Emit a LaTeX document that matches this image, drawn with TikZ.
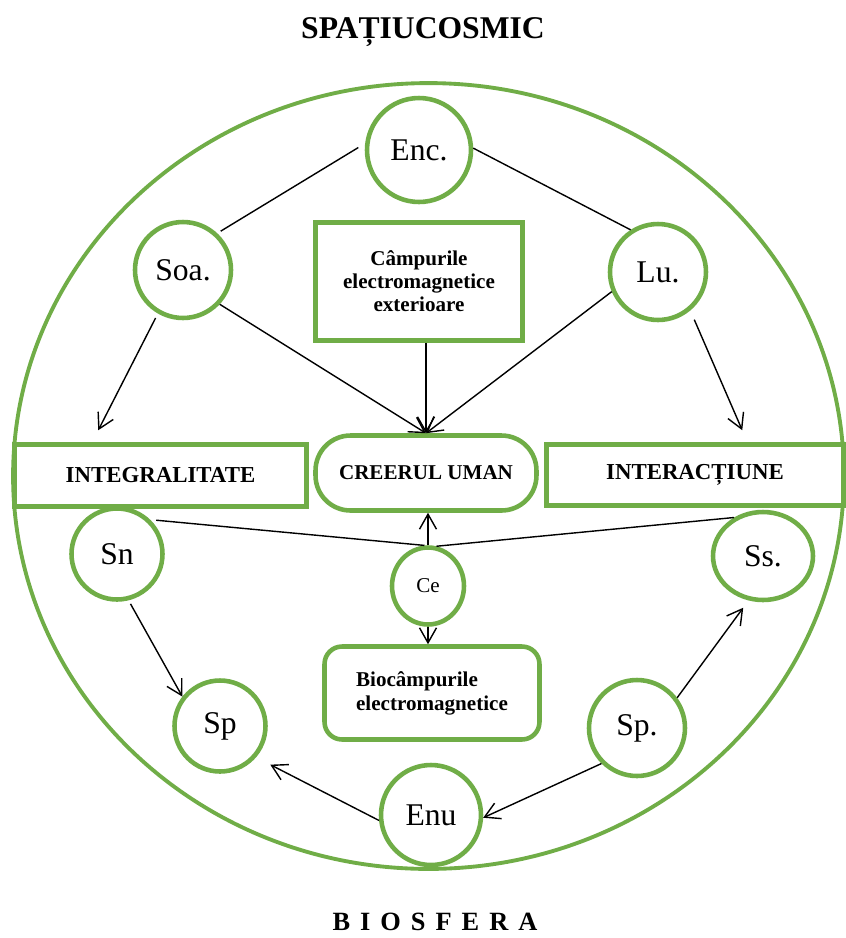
\documentclass[tikz,border=0pt]{standalone}
\usepackage{fontspec}
\setmainfont{Liberation Serif}
\usetikzlibrary{shapes.geometric,arrows.meta,calc}
\definecolor{verde}{RGB}{112,173,71}

\begin{document}
\begin{tikzpicture}[x=0.02cm,y=-0.02cm,
  cerc/.style={circle,draw=verde,line width=2.6pt,fill=white,inner sep=0pt,font=\fontsize{18}{20}\selectfont},
  oval/.style={ellipse,draw=verde,line width=2.6pt,fill=white,inner sep=0pt,font=\fontsize{18}{20}\selectfont},
  cutie/.style={rectangle,draw=verde,line width=2.6pt,fill=white,inner sep=0pt,font=\bfseries\fontsize{13}{15}\selectfont},
  linie/.style={line width=0.8pt},
  sageata/.style={->,line width=0.8pt},
  >={Straight Barb[length=3mm,width=3.4mm]}]
\useasboundingbox (0,0) rectangle (846,938) ;
\node (biosferaoval) [ellipse,draw=verde,line width=2.2pt,minimum width=16.62cm,minimum height=15.72cm] at (428.5,476) {} ;
\node (spatiucosmic) [font=\bfseries\fontsize{18}{20}\selectfont] at (423,32) {SPAȚIUCOSMIC} ;
\node (biosfera) [font=\bfseries\fontsize{15}{17}\selectfont] at (435,922) {\spaceskip=0.38em B I O S F E R A} ;
\node (enc) [cerc,minimum size=2.08cm] at (419,150) {Enc.} ;
\node (soa) [cerc,minimum size=1.92cm] at (183,270) {Soa.} ;
\node (lu) [cerc,minimum size=1.92cm] at (658,272) {Lu.} ;
\node (campuri) [cutie,minimum width=4.14cm,minimum height=2.36cm,align=center,font=\bfseries\fontsize{12}{13}\selectfont] at (419,281.5) {Câmpurile\\electromagnetice\\exterioare} ;
\node (integ) [cutie,minimum width=5.84cm,minimum height=1.24cm] at (160.5,475.5) {INTEGRALITATE} ;
\node (creier) [cutie,rounded corners=0.7cm,minimum width=4.42cm,minimum height=1.5cm,font=\bfseries\fontsize{12}{14}\selectfont] at (426,473) {CREERUL UMAN} ;
\node (interact) [cutie,minimum width=5.94cm,minimum height=1.22cm] at (695,475) {INTERACȚIUNE} ;
\node (sn) [cerc,minimum size=1.82cm] at (117,554) {Sn} ;
\node (ss) [oval,minimum width=2.0cm,minimum height=1.76cm] at (763,556) {Ss.} ;
\node (ce) [oval,minimum width=1.44cm,minimum height=1.54cm,font=\fontsize{12}{14}\selectfont] at (428,586) {Ce} ;
\node (bio) [cutie,rounded corners=0.35cm,minimum width=4.3cm,minimum height=1.86cm,align=left,font=\bfseries\fontsize{12}{13.6}\selectfont] at (432,693) {Biocâmpurile\\electromagnetice} ;
\node (sp) [cerc,minimum size=1.82cm] at (220,726) {Sp} ;
\node (spp) [cerc,minimum size=1.92cm] at (637,728) {Sp.} ;
\node (enu) [cerc,minimum size=2.0cm] at (431,815) {Enu} ;
\draw [linie,shorten <=0.16cm,shorten >=0.08cm] (enc.173) to (soa.47) ;
\draw [linie] (enc.2) to (lu.123) ;
\draw [sageata,shorten <=0.1cm] (soa.240) to ($(integ.north west)+(86,-12)$) ;
\draw [sageata,shorten <=0.2cm] (lu.310) to ($(interact.north west)+(198,-12)$) ;
\draw [sageata] (soa.317) to (creier.north) ;
\draw [sageata] (campuri.south -| creier.north) to (creier.north) ;
\draw [sageata] (lu.203) to (creier.north) ;
\draw [linie,shorten <=0.12cm] (sn.46) to (ce.95) ;
\draw [linie] (ce.78) to (ss.127) ;
\draw [sageata] (ce.north) to (ce.north |- creier.south) ;
\draw [sageata] (ce.south) to (ce.south |- bio.north) ;
\draw [sageata,shorten <=0.08cm] (sn.284) to (sp.142) ;
\draw [sageata,shorten >=0.18cm] (spp.37) to (ss.252) ;
\draw [sageata] (spp.225) to (enu.357) ;
\draw [sageata,shorten >=0.32cm] (enu.186) to (sp.319) ;
\end{tikzpicture}
\end{document}
